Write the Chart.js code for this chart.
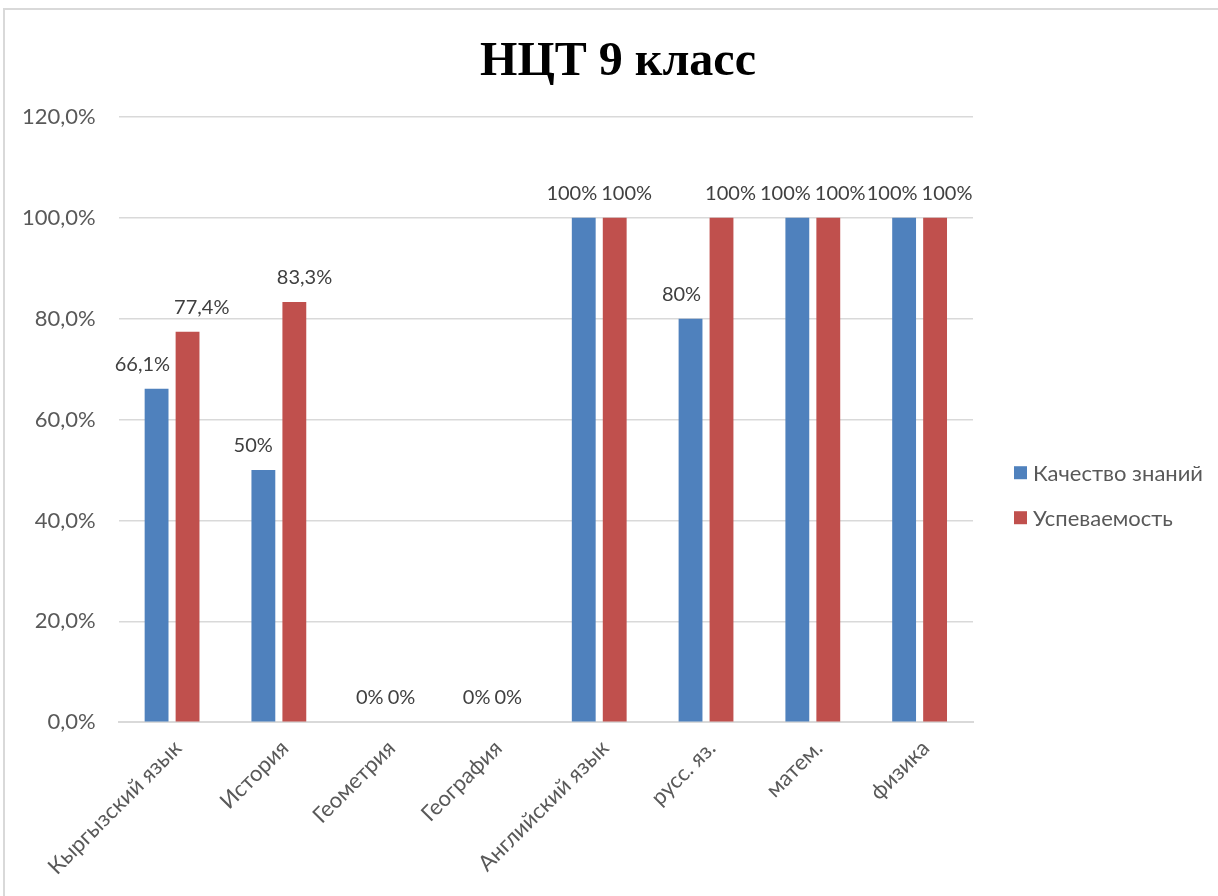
<!DOCTYPE html>
<html>
<head>
<meta charset="utf-8">
<script src="https://cdn.jsdelivr.net/npm/chart.js@4.4.1/dist/chart.umd.min.js"></script>
<style>
  body { margin: 0; background: #fff; overflow: hidden; }
  #frame {
    position: absolute; left: 3px; top: 8px;
    width: 1240px; height: 900px;
    border: 2px solid #d9d9d9; background: #fff;
  }
</style>
</head>
<body>
<div id="frame"><canvas id="barChart" width="1231" height="886"></canvas></div>
<script>
const chartTitle = "НЦТ 9 класс";
const subjects = [
    "Кыргызский язык",
    "История",
    "Геометрия",
    "География",
    "Английский язык",
    "русс. яз.",
    "матем.",
    "физика",
];
const quality = [66.1, 50, 0, 0, 100, 80, 100, 100];
const progress = [77.4, 83.3, 0, 0, 100, 100, 100, 100];
const yTicks = [0, 20, 40, 60, 80, 100, 120];

const textFont = "Lato, 'Open Sans', sans-serif";

function pct(v, digits) {
    return v.toFixed(digits).replace(".", ",") + "%";
}

function valueText(v) {
    return Number.isInteger(v) ? v + "%" : pct(v, 1);
}

// title centred over the whole frame (legend space is padding on the right)
const wideTitle = {
    id: "wideTitle",
    afterDraw(chart) {
        const ctx = chart.ctx;
        ctx.save();
        ctx.font = "bold 48px 'Liberation Serif', 'Times New Roman', serif";
        ctx.fillStyle = "#000";
        ctx.textAlign = "center";
        ctx.textBaseline = "middle";
        ctx.fillText(chartTitle, 613, 53);
        ctx.restore();
    },
};

// value labels above each bar, pushed apart when they collide
const valueLabels = {
    id: "valueLabels",
    afterDatasetsDraw(chart) {
        const ctx = chart.ctx;
        ctx.save();
        ctx.font = "20px " + textFont;
        ctx.fillStyle = "#404040";
        ctx.textAlign = "center";
        ctx.textBaseline = "alphabetic";
        const m0 = chart.getDatasetMeta(0).data;
        const m1 = chart.getDatasetMeta(1).data;
        const d0 = chart.data.datasets[0].data;
        const d1 = chart.data.datasets[1].data;
        m0.forEach((b0, j) => {
            const b1 = m1[j];
            const t0 = valueText(d0[j]);
            const t1 = valueText(d1[j]);
            const w0 = ctx.measureText(t0).width;
            const w1 = ctx.measureText(t1).width;
            let x0 = b0.x;
            let x1 = b1.x;
            const overlap = (x0 + w0 / 2 + 4) - (x1 - w1 / 2);
            if (overlap > 0) {
                x0 -= overlap / 2;
                x1 += overlap / 2;
            }
            ctx.fillText(t0, x0, b0.y - 18);
            ctx.fillText(t1, x1, b1.y - 18);
        });
        ctx.restore();
    },
};

// legend at the right, drawn from the datasets
const sideLegend = {
    id: "sideLegend",
    afterDraw(chart) {
        const ctx = chart.ctx;
        const area = chart.chartArea;
        const x = area.right + 41;
        const yMid = area.top + (area.bottom - area.top) * 0.625;
        const step = 45;
        const sets = chart.data.datasets;
        ctx.save();
        ctx.font = "22px " + textFont;
        ctx.textBaseline = "middle";
        sets.forEach((ds, i) => {
            const y = yMid + (i - (sets.length - 1) / 2) * step;
            ctx.fillStyle = ds.backgroundColor;
            ctx.fillRect(x, y - 6.5, 13, 13);
            ctx.fillStyle = "#595959";
            ctx.fillText(ds.label, x + 19, y + 1);
        });
        ctx.restore();
    },
};

const barChart = document.querySelector("#barChart").getContext("2d");
const objBarChart = new Chart(barChart, {
    type: "bar",
    data: {
        labels: subjects,
        datasets: [
            {
                label: "Качество знаний",
                data: quality,
                backgroundColor: "#4F81BD",
                categoryPercentage: 0.58,
                barPercentage: 0.77,
            },
            {
                label: "Успеваемость",
                data: progress,
                backgroundColor: "#C0504D",
                categoryPercentage: 0.58,
                barPercentage: 0.77,
            },
        ],
    },
    options: {
        responsive: false,
        animation: false,
        layout: {
            padding: { left: 17, right: 263, top: 107, bottom: 3 },
        },
        plugins: {
            title: { display: false },
            legend: { display: false },
            tooltip: { enabled: false },
        },
        scales: {
            x: {
                grid: { display: false, drawTicks: false },
                border: { color: "#d9d9d9", width: 2 },
                afterFit(scale) {
                    scale.paddingLeft = 0;
                },
                ticks: {
                    color: "#595959",
                    font: { family: textFont, size: 22 },
                    minRotation: 45,
                    maxRotation: 45,
                    padding: 13,
                    labelOffset: 6,
                },
            },
            y: {
                min: 0,
                max: 120,
                afterBuildTicks(axis) {
                    axis.ticks = yTicks.map((v) => ({ value: v }));
                },
                afterFit(axis) {
                    // fit() counts the tick padding twice
                    axis.width -= axis.options.ticks.padding;
                },
                grid: { color: "#d9d9d9", lineWidth: 1.5, drawTicks: false },
                border: { display: false },
                ticks: {
                    color: "#595959",
                    font: { family: textFont, size: 22 },
                    padding: 23,
                    callback: (v) => pct(v, 1),
                },
            },
        },
    },
    plugins: [valueLabels, sideLegend, wideTitle],
});
</script>
</body>
</html>
